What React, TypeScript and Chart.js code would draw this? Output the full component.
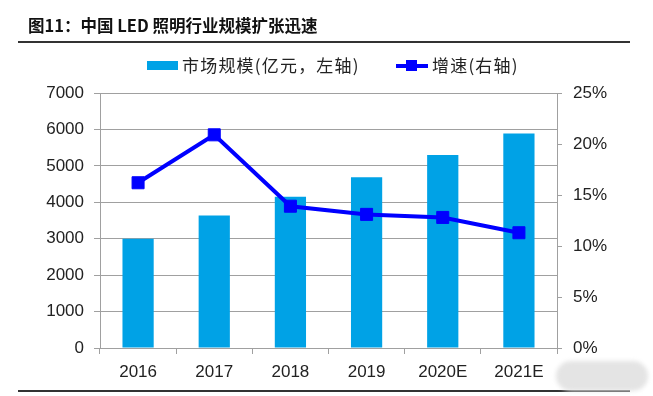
import React, { useEffect, useRef } from "react";
import { Chart, registerables } from "chart.js";

Chart.register(...registerables);

const categories = ["2016", "2017", "2018", "2019", "2020E", "2021E"];
const marketSize = [3000, 3640, 4150, 4690, 5300, 5890];
const growthRate = [0.162, 0.209, 0.139, 0.131, 0.128, 0.113];
const title = "图11：中国 LED 照明行业规模扩张迅速";
const legendBar = "市场规模(亿元，左轴)";
const legendLine = "增速(右轴)";

const BAR = "#00A2E6";
const LINE = "#0000FF";
const GRID = "#A0A0A0";
const TICKFONT = { family: "'Liberation Sans', Arial, sans-serif", size: 17 };

export default function App() {
  const ref = useRef<HTMLCanvasElement | null>(null);

  useEffect(() => {
    if (!ref.current) return;
    const chart = new Chart(ref.current, {
      type: "bar",
      data: {
        labels: categories,
        datasets: [
          {
            type: "line",
            label: legendLine,
            data: growthRate,
            yAxisID: "y1",
            borderColor: LINE,
            backgroundColor: LINE,
            borderWidth: 4,
            pointStyle: "rect",
            pointRadius: 8.5,
            pointBackgroundColor: LINE,
            pointBorderColor: LINE,
            pointBorderWidth: 1,
            tension: 0,
            order: 0,
          } as any,
          {
            type: "bar",
            label: legendBar,
            data: marketSize,
            yAxisID: "y",
            backgroundColor: BAR,
            barPercentage: 0.41,
            categoryPercentage: 1,
            order: 1,
          } as any,
        ],
      },
      options: {
        animation: false,
        responsive: false,
        maintainAspectRatio: false,
        layout: { padding: { top: 93, left: 0, right: 0, bottom: 0 } },
        plugins: { legend: { display: false }, tooltip: { enabled: false }, title: { display: false } },
        scales: {
          x: {
            offset: true,
            grid: { drawOnChartArea: false, drawTicks: true, tickLength: 6, color: GRID, offset: true },
            border: { color: GRID, width: 1 },
            ticks: { font: TICKFONT, color: "#222", padding: 8 },
            afterFit: (s: any) => { s.height = 48; },
          },
          y: {
            position: "left",
            min: 0,
            max: 7000,
            ticks: {
              stepSize: 1000,
              font: TICKFONT,
              color: "#222",
              padding: 10,
              callback: (v: any) => String(v),
            },
            grid: { color: GRID, tickLength: 6 },
            border: { color: GRID, width: 1 },
            afterFit: (s: any) => { s.width = 100; },
          },
          y1: {
            position: "right",
            min: 0,
            max: 0.25,
            ticks: {
              stepSize: 0.05,
              font: TICKFONT,
              color: "#222",
              padding: 11,
              callback: (v: any) => `${Math.round(Number(v) * 100)}%`,
            },
            grid: { drawOnChartArea: false, color: GRID, tickLength: 5 },
            border: { color: GRID, width: 1 },
            afterFit: (s: any) => { s.width = 96; },
          },
        },
      },
    });
    return () => chart.destroy();
  }, []);

  const cjk = "'Noto Sans CJK SC', 'Noto Sans', sans-serif";

  return (
    <div style={{ position: "absolute", left: 0, top: 0, width: 653, height: 396, background: "#fff", overflow: "hidden" }}>
      <canvas ref={ref} width={653} height={396} style={{ position: "absolute", left: 0, top: 0, width: 653, height: 396 }} />
      <div style={{ position: "absolute", left: 28, top: 13, fontFamily: cjk, fontWeight: 700, fontSize: 16.5, color: "#111", whiteSpace: "nowrap", lineHeight: "24px" }}>
        {title}
      </div>
      <div style={{ position: "absolute", left: 18, top: 41, width: 612, height: 2, background: "#333" }} />
      <div style={{ position: "absolute", left: 147, top: 61, width: 31, height: 9, background: BAR }} />
      <div style={{ position: "absolute", left: 182, top: 53, fontFamily: cjk, fontSize: 17, letterSpacing: 1.2, color: "#222", whiteSpace: "nowrap", lineHeight: "24px" }}>
        {legendBar}
      </div>
      <div style={{ position: "absolute", left: 396, top: 63.5, width: 32, height: 4, background: LINE }} />
      <div style={{ position: "absolute", left: 406, top: 60, width: 11, height: 11, background: LINE }} />
      <div style={{ position: "absolute", left: 432, top: 53, fontFamily: cjk, fontSize: 17, letterSpacing: 1.2, color: "#222", whiteSpace: "nowrap", lineHeight: "24px" }}>
        {legendLine}
      </div>
      <div style={{ position: "absolute", left: 18, top: 390, width: 612, height: 2, background: "#333" }} />
      <div style={{ position: "absolute", left: 556, top: 361, width: 92, height: 30, borderRadius: 15, background: "#e4e4e4", filter: "blur(2px)" }} />
    </div>
  );
}
